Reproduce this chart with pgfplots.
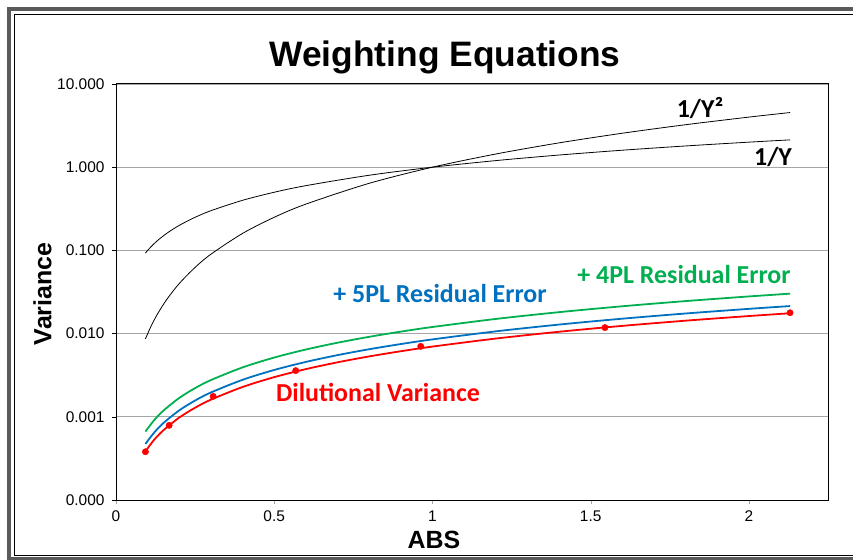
\documentclass[border=0pt]{standalone}
\usepackage{pgfplots}
\pgfplotsset{compat=1.18}
\usepackage{fontspec}
\setmainfont{Liberation Sans}
\newfontfamily\carlito{Carlito}
\definecolor{xlgreen}{HTML}{00B050}
\definecolor{xlblue}{HTML}{0070C0}
\definecolor{xlred}{HTML}{FF0000}
\definecolor{framegray}{HTML}{5A5A5A}
\begin{document}
\begin{tikzpicture}[x=1bp,y=1bp]
\useasboundingbox (-116,-60) rectangle (737,500);
\begin{axis}[
  at={(0,0)}, anchor=south west,
  scale only axis, width=712bp, height=416bp,
  xmin=0, xmax=2.25, ymode=log, ymin=1e-4, ymax=10,
  xtick={0,0.5,1,1.5,2}, xticklabels={0,0.5,1,1.5,2},
  ytick={0.0001,0.001,0.01,0.1,1,10},
  yticklabels={0.000,0.001,0.010,0.100,1.000,10.000},
  minor ytick={}, yminorticks=false,
  xtick pos=bottom, ytick pos=left,
  tick align=outside, major tick length=4bp,
  xtick style={draw=gray!70}, ytick style={black},
  ymajorgrids, grid style={draw=gray!70, line width=0.8pt},
  axis line style={black, line width=1pt},
  tick label style={font=\fontsize{15.5}{17}\selectfont},
  yticklabel style={xshift=-4bp},
  xticklabel style={yshift=-3bp},
  /pgf/number format/assume math mode=true,
  clip=false,
]
% 1/Y^2
\addplot[black, line width=0.8pt, smooth] coordinates {
(0.093,0.00865) (0.11,0.0121) (0.13,0.0169) (0.16,0.0256) (0.2,0.04) (0.25,0.0625) (0.3,0.09) (0.4,0.16) (0.5,0.25) (0.6,0.36) (0.8,0.64) (1.0,1.0) (1.2,1.44) (1.4,1.96) (1.6,2.56) (1.8,3.24) (2.0,4.0) (2.13,4.537)};
% 1/Y
\addplot[black, line width=0.8pt, smooth] coordinates {
(0.093,0.093) (0.11,0.11) (0.13,0.13) (0.16,0.16) (0.2,0.2) (0.25,0.25) (0.3,0.3) (0.4,0.4) (0.5,0.5) (0.6,0.6) (0.8,0.8) (1.0,1.0) (1.2,1.2) (1.4,1.4) (1.6,1.6) (1.8,1.8) (2.0,2.0) (2.13,2.13)};
% 4PL
\addplot[xlgreen, line width=1.8pt, smooth] coordinates {
(0.093,0.000665) (0.12,0.000905) (0.15,0.001187) (0.2,0.001686) (0.25,0.002212) (0.3,0.002764) (0.4,0.003925) (0.5,0.005155) (0.6,0.006438) (0.7,0.007769) (0.8,0.009145) (0.9,0.010557) (1.0,0.012006) (1.2,0.014997) (1.4,0.018100) (1.6,0.021302) (1.8,0.024594) (2.0,0.027967) (2.13,0.030203)};
% 5PL
\addplot[xlblue, line width=1.8pt, smooth] coordinates {
(0.093,0.000472) (0.12,0.000642) (0.15,0.000842) (0.2,0.001196) (0.25,0.001569) (0.3,0.001961) (0.4,0.002784) (0.5,0.003656) (0.6,0.004566) (0.7,0.005511) (0.8,0.006487) (0.9,0.007488) (1.0,0.008516) (1.2,0.010637) (1.4,0.012838) (1.6,0.015110) (1.8,0.017445) (2.0,0.019837) (2.13,0.021423)};
% Dilutional variance fit
\addplot[xlred, line width=1.8pt, smooth] coordinates {
(0.093,0.000385) (0.12,0.000526) (0.15,0.000690) (0.2,0.000980) (0.25,0.001286) (0.3,0.001607) (0.4,0.002282) (0.5,0.002997) (0.6,0.003743) (0.7,0.004517) (0.8,0.005317) (0.9,0.006138) (1.0,0.006980) (1.2,0.008719) (1.4,0.010523) (1.6,0.012385) (1.8,0.014299) (2.0,0.016260) (2.13,0.017560)};
% Dilutional variance data points
\addplot[only marks, mark=*, mark size=3.2pt, xlred] coordinates {
(0.093,0.00038) (0.168,0.00079) (0.307,0.00176) (0.568,0.00359) (0.963,0.00703) (1.545,0.0118) (2.13,0.0178)};
\end{axis}
% frame
\draw[framegray, line width=4bp] (737,491) -- (-107,491) -- (-107,-59) -- (737,-59);
\draw[black, line width=1.5bp] (737,485.7) -- (-101.7,485.7) -- (-101.7,-55.3) -- (737,-55.3);
% titles
\node[anchor=base, font=\fontsize{35.5}{40}\selectfont\bfseries] at (329,433) {Weighting Equations};
\node[rotate=90, font=\fontsize{25}{30}\selectfont\bfseries] at (-73.5,206) {Variance};
\node[font=\fontsize{25}{30}\selectfont\bfseries] at (318,-40) {ABS};
% curve labels
\node[anchor=base, font=\carlito\fontsize{26}{30}\selectfont\bfseries] at (584,382) {1/Y²};
\node[anchor=base, font=\carlito\fontsize{26}{30}\selectfont\bfseries] at (657,334) {1/Y};
\node[anchor=base, text=xlblue, font=\carlito\fontsize{26}{30}\selectfont\bfseries] at (324,197) {+ 5PL Residual Error};
\node[anchor=base, text=xlgreen, font=\carlito\fontsize{26}{30}\selectfont\bfseries] at (568,216) {+ 4PL Residual Error};
\node[anchor=base, text=xlred, font=\carlito\fontsize{26}{30}\selectfont\bfseries] at (262,98) {Dilutional Variance};
\end{tikzpicture}
\end{document}
